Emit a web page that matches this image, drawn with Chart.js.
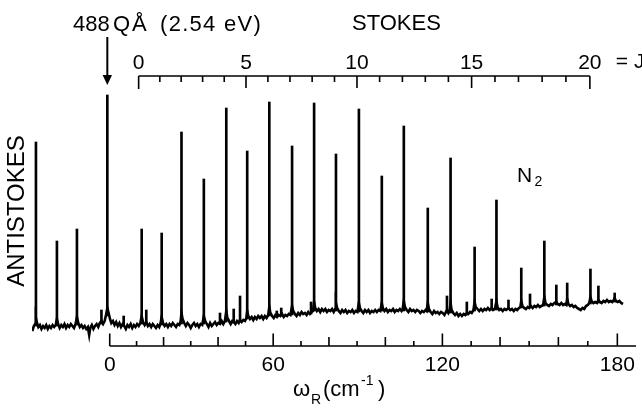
<!DOCTYPE html>
<html><head><meta charset="utf-8">
<script src="https://cdn.jsdelivr.net/npm/chart.js@4.4.0/dist/chart.umd.min.js"></script>
<style>html,body{margin:0;padding:0;background:#fff;}canvas{display:block;}</style>
</head><body>
<canvas id="c" width="642" height="408"></canvas>
<script>
// Raman shift tick labels (cm^-1) and rotational quantum number J tick labels
const shiftTicks = [0, 60, 120, 180];
const jTicks = [0, 5, 10, 15, 20];
const laserShift = -0.9;

// Sharp Raman lines: shift (cm^-1), foot level, peak level (arb. counts)
const lineShift = [-27.8, -19.85, -12.3, -3.1, -0.9, 5.2, 11.9, 13.6, 19.3, 26.6, 34.8, 40.7, 43.0, 45.7, 48.0, 50.6, 58.6, 61.3, 62.9, 66.8, 73.6, 74.7, 82.5, 90.65, 98.75, 106.5, 114.9, 121.6, 122.85, 128.5, 131.2, 137.1, 138.75, 142.9, 147.3, 150.3, 155.2, 159.3, 163.0, 170.9, 173.6, 179.1];
const lineFloor = [20, 20, 21, 22, 30, 20, 22, 22, 21, 22, 22, 22, 24, 23, 24, 27, 30, 29, 30, 31, 32, 35, 35, 34, 35, 35, 34, 33, 33, 31, 35, 36, 36, 37, 38, 38, 40, 41, 41, 42, 43, 44];
const lineTop = [204, 105, 117, 36, 251, 30, 117, 36, 113, 214, 167, 33, 238, 37, 50, 195, 244, 35, 38, 200, 44, 243, 192, 237, 170, 220, 138, 50, 188, 44, 99, 47, 146, 46, 78, 52, 105, 61, 63, 77, 60, 53];

// Noisy background trace: [shift, counts]
const baselineTrace = [[-29.2,15],[-28.6,20],[-28.1,22],[-27.8,28],[-27.4,23],[-26.9,19],[-26.3,21],[-25.7,17],[-25.1,20],[-24.5,18],[-23.9,21],[-23.3,17],[-22.7,20],[-22.1,18],[-21.5,21],[-20.9,19],[-20.3,21],[-19.85,27],[-19.4,22],[-18.8,18],[-18.2,21],[-17.6,19],[-17.0,22],[-16.4,18],[-15.8,21],[-15.2,19],[-14.6,22],[-14.0,20],[-13.4,18],[-12.8,22],[-12.3,29],[-11.8,23],[-11.2,19],[-10.6,21],[-10.0,18],[-9.4,20],[-8.8,17],[-8.2,19],[-7.7,11],[-7.3,18],[-6.7,21],[-6.1,17],[-5.5,20],[-4.9,22],[-4.3,19],[-3.7,23],[-3.1,25],[-2.5,22],[-1.9,25],[-1.4,31],[-0.9,38],[-0.4,33],[0.1,27],[0.6,23],
[1.2,25],[1.8,21],[2.4,24],[3.0,20],[3.6,23],[4.2,19],[4.8,22],[5.4,20],[6.0,17],[6.6,21],[7.2,19],[7.8,22],[8.4,18],[9.0,21],[9.6,19],[10.2,22],[10.8,20],[11.4,23],[11.9,30],[12.4,24],[13.0,21],[13.6,24],[14.2,20],[14.8,22],[15.4,19],[16.0,22],[16.6,20],[17.2,18],[17.8,21],[18.4,19],[18.9,23],[19.3,29],[19.8,23],[20.4,20],[21.0,22],[21.6,19],[22.2,22],[22.8,20],[23.4,23],[24.0,21],[24.6,19],[25.2,22],[25.8,21],[26.3,25],[26.6,33],[27.0,27],[27.6,23],[28.2,20],[28.8,23],[29.4,21],[30.0,18],[30.6,21],[31.2,23],[31.8,20],[32.4,22],[33.0,19],[33.6,22],[34.2,21],[34.8,30],[35.3,25],[35.9,22],[36.5,19],[37.1,23],[37.7,20],[38.3,22],[38.9,24],[39.5,21],[40.1,23],[40.7,22],[41.3,25],[41.9,22],[42.5,25],[43.0,35],[43.4,28],[44.0,25],[44.6,22],[45.2,25],[45.7,24],[46.3,22],[46.9,25],[47.5,23],[48.0,26],[48.6,24],[49.2,26],[49.8,25],[50.3,28],[50.6,35],[51.0,30],[51.6,27],[52.2,29],[52.8,26],[53.4,29],[54.0,27],[54.6,30],[55.2,28],[55.8,30],[56.4,27],[57.0,30],[57.6,28],[58.2,31],[58.6,39],[59.0,33],[59.6,30],[60.2,28],[60.8,31],[61.4,29],[62.0,31],[62.6,30],[63.2,32],[63.8,29],[64.4,31],[65.0,30],[65.6,32],[66.2,31],[66.8,40],[67.2,35],[67.8,32],[68.4,30],[69.0,33],[69.6,31],[70.2,34],[70.8,32],[71.4,33],[72.0,31],[72.6,34],[73.2,32],[73.8,34],[74.3,35],[74.7,44],[75.1,38],[75.7,35],[76.3,37],[76.9,34],[77.5,37],[78.1,35],[78.7,37],[79.3,34],[79.9,36],[80.5,35],[81.1,37],[81.7,34],[82.2,37],[82.5,43],[82.9,38],[83.5,35],[84.1,33],[84.7,36],[85.3,34],[85.9,36],[86.5,33],[87.1,35],[87.7,34],[88.3,36],[88.9,33],[89.5,35],[90.1,34],[90.65,43],[91.0,38],[91.6,35],[92.2,33],[92.8,36],[93.4,34],[94.0,36],[94.6,33],[95.2,35],[95.8,34],[96.4,36],[97.0,34],[97.6,36],[98.2,35],[98.75,43],[99.1,38],[99.7,35],[100.3,37],[100.9,34],[101.5,36],[102.1,35],[102.7,37],[103.3,34],[103.9,36],[104.5,35],[105.1,37],[105.7,35],[106.1,37],[106.5,45],[106.9,39],[107.5,36],[108.1,34],[108.7,37],[109.3,35],[109.9,36],[110.5,34],[111.1,36],[111.7,35],[112.3,33],[112.9,35],[113.5,34],[114.1,36],[114.5,35],[114.9,43],[115.3,37],[115.9,34],[116.5,32],[117.1,35],[117.7,33],[118.3,34],[118.9,32],[119.5,34],[120.1,33],[120.7,31],[121.2,34],[121.6,36],[122.1,33],[122.5,35],[122.85,43],[123.2,36],[123.8,33],[124.4,31],[125.0,33],[125.6,30],[126.2,32],[126.8,30],[127.4,32],[128.0,31],[128.5,33],[129.0,32],[129.6,34],[130.2,33],[130.8,36],[131.2,44],[131.6,39],[132.2,37],[132.8,35],[133.4,37],[134.0,35],[134.6,37],[135.2,36],[135.8,38],[136.4,36],[137.1,38],[137.6,36],[138.2,37],[138.75,45],[139.1,39],[139.7,36],[140.3,37],[140.9,35],[141.5,37],[142.1,36],[142.9,38],[143.5,36],[144.1,37],[144.7,35],[145.3,37],[145.9,36],[146.5,38],[147.0,39],[147.3,45],[147.7,40],[148.3,38],[148.9,37],[149.5,39],[150.0,38],[150.6,40],[151.2,38],[151.8,40],[152.4,39],[153.0,41],[153.6,39],[154.2,40],[154.8,41],[155.2,49],[155.6,43],[156.2,41],[156.8,40],[157.4,42],[158.0,41],[158.6,43],[159.3,44],[159.8,42],[160.4,41],[161.0,43],[161.6,41],[162.2,42],[162.7,41],[163.0,47],[163.4,42],[164.0,40],[164.6,41],[165.2,39],[165.8,40],[166.4,38],[167.0,37],[167.6,36],[168.2,38],[168.8,37],[169.4,40],[170.0,41],[170.5,43],[170.9,49],[171.3,45],[171.9,43],[172.5,44],[173.1,43],[173.6,46],[174.1,44],[174.7,43],[175.3,45],[175.9,44],[176.5,46],[177.1,44],[177.7,45],[178.3,44],[178.8,46],[179.1,48],[179.5,45],[180.1,44],[180.7,45],[181.3,43],[181.9,42]];

// A linear scale whose pixel position follows a slightly quadratic calibration (spectrometer dispersion)
class WarpScale extends Chart.LinearScale {
  _fw(v) { const c = this.options.warp || 0; return v + c * v * v; }
  _fi(f) { const c = this.options.warp || 0; return c ? (Math.sqrt(1 + 4 * c * f) - 1) / (2 * c) : f; }
  getPixelForValue(value) {
    if (value === null || value === undefined || isNaN(value)) return NaN;
    const a = this._fw(this.min), b = this._fw(this.max);
    return this.getPixelForDecimal((this._fw(value) - a) / (b - a));
  }
  getValueForPixel(pixel) {
    const a = this._fw(this.min), b = this._fw(this.max);
    return this._fi(a + this.getDecimalForPixel(pixel) * (b - a));
  }
}
WarpScale.id = 'warp';
WarpScale.defaults = Chart.LinearScale.defaults;
Chart.register(WarpScale);

Chart.defaults.font.family = "'Liberation Sans', Arial, Helvetica, sans-serif";
Chart.defaults.color = '#000';

function txt(ctx, s, x, y, size, spacing) {
  ctx.font = size + "px 'Liberation Sans', Arial, sans-serif";
  if ('letterSpacing' in ctx) ctx.letterSpacing = (spacing || 0) + 'px';
  ctx.fillText(s, x, y);
  if ('letterSpacing' in ctx) ctx.letterSpacing = '0px';
}

const overlay = {
  id: 'overlay',
  afterDraw(chart) {
    const ctx = chart.ctx, area = chart.chartArea;
    const xs = chart.scales.x, xj = chart.scales.xj;
    ctx.save();
    ctx.strokeStyle = '#000'; ctx.fillStyle = '#000'; ctx.lineWidth = 1.6;
    // bottom Raman shift axis
    const yb = area.bottom;
    ctx.beginPath();
    ctx.moveTo(xs.getPixelForValue(0), yb); ctx.lineTo(xs.getPixelForValue(186.3), yb);
    for (let v = 0; v <= 180; v += 10) {
      const len = v % 60 === 0 ? 12.5 : (v % 20 === 0 ? 9 : 5);
      const p = xs.getPixelForValue(v);
      ctx.moveTo(p, yb); ctx.lineTo(p, yb - len);
    }
    ctx.stroke();
    // top J axis
    const yt = area.top;
    ctx.beginPath();
    ctx.moveTo(xj.getPixelForValue(0), yt); ctx.lineTo(xj.getPixelForValue(20), yt);
    for (let j = 0; j <= 20; j++) {
      const len = (j === 0 || j === 20) ? 13 : (j % 5 === 0 ? 12 : 6);
      const p = xj.getPixelForValue(j);
      ctx.moveTo(p, yt); ctx.lineTo(p, yt + len);
    }
    ctx.stroke();
    // laser arrow
    const xl = xs.getPixelForValue(laserShift);
    ctx.lineWidth = 2;
    ctx.beginPath(); ctx.moveTo(xl, 37); ctx.lineTo(xl, 76); ctx.stroke();
    ctx.beginPath(); ctx.moveTo(xl - 4.7, 75); ctx.lineTo(xl + 4.7, 75); ctx.lineTo(xl, 85); ctx.closePath(); ctx.fill();
    // texts
    ctx.textAlign = 'left'; ctx.textBaseline = 'alphabetic';
    txt(ctx, '488', 73, 31, 22, 0);
    txt(ctx, 'QÅ', 113, 31, 22, 2);
    txt(ctx, '(2.54 eV)', 160, 31, 22, 1.3);
    txt(ctx, 'STOKES', 352, 29.5, 22, 0);
    txt(ctx, '= J', xj.getPixelForValue(20) + 26, 67.5, 21, 0);
    txt(ctx, 'N', 517, 182, 21, 0);
    txt(ctx, '2', 534.5, 186, 14, 0);
    txt(ctx, 'ω', 293, 396, 22, 0);
    txt(ctx, 'R', 311, 404, 14, 0);
    txt(ctx, '(cm', 323, 396, 22, 0);
    txt(ctx, '-1', 361, 385, 14, 0);
    txt(ctx, ')', 378, 396, 22, 0);
    ctx.restore();
  }
};

new Chart(document.getElementById('c'), {
  type: 'line',
  data: {
    datasets: [
      { type: 'line', data: baselineTrace.map(([x, y]) => ({ x, y })), borderColor: '#000', borderWidth: 2.6,
        pointRadius: 0, tension: 0, xAxisID: 'x', yAxisID: 'y', order: 2 },
      { type: 'bar', data: lineShift.map((s, i) => ({ x: s, y: [lineFloor[i], lineTop[i]] })), backgroundColor: '#000',
        borderWidth: 0, barThickness: 2, xAxisID: 'x', yAxisID: 'y', order: 1 }
    ]
  },
  options: {
    responsive: false, animation: false, devicePixelRatio: 1,
    layout: { padding: { left: 0, right: 2, top: 36, bottom: 2 } },
    plugins: { legend: { display: false }, tooltip: { enabled: false } },
    scales: {
      x: {
        type: 'warp', position: 'bottom', min: -29.3, max: 186.94, warp: 0.0002983, offset: false,
        grid: { display: false, drawTicks: false }, border: { display: false },
        ticks: { padding: 7, font: { size: 21 }, color: '#000', maxRotation: 0, autoSkip: false, callback: v => String(v) },
        afterBuildTicks: s => { s.ticks = shiftTicks.map(v => ({ value: v })); },
        afterFit: s => { s.height = 60; }
      },
      xj: {
        type: 'warp', position: 'top', min: -5.144, max: 21.99, warp: 0.003447, offset: false,
        grid: { display: false, drawTicks: false }, border: { display: false },
        ticks: { padding: 0, font: { size: 21 }, color: '#000', maxRotation: 0, autoSkip: false, callback: v => String(v) },
        afterBuildTicks: s => { s.ticks = jTicks.map(v => ({ value: v })); },
        afterFit: s => { s.height = 40; }
      },
      y: {
        type: 'linear', position: 'left', min: 0, max: 270,
        grid: { display: false, drawTicks: false }, border: { display: false },
        ticks: { display: false },
        title: { display: true, text: 'ANTISTOKES', font: { size: 24 }, color: '#000', padding: { top: 3, bottom: 0 } },
        afterFit: s => { s.width = 32; }
      }
    }
  },
  plugins: [overlay]
});
</script>
</body></html>
